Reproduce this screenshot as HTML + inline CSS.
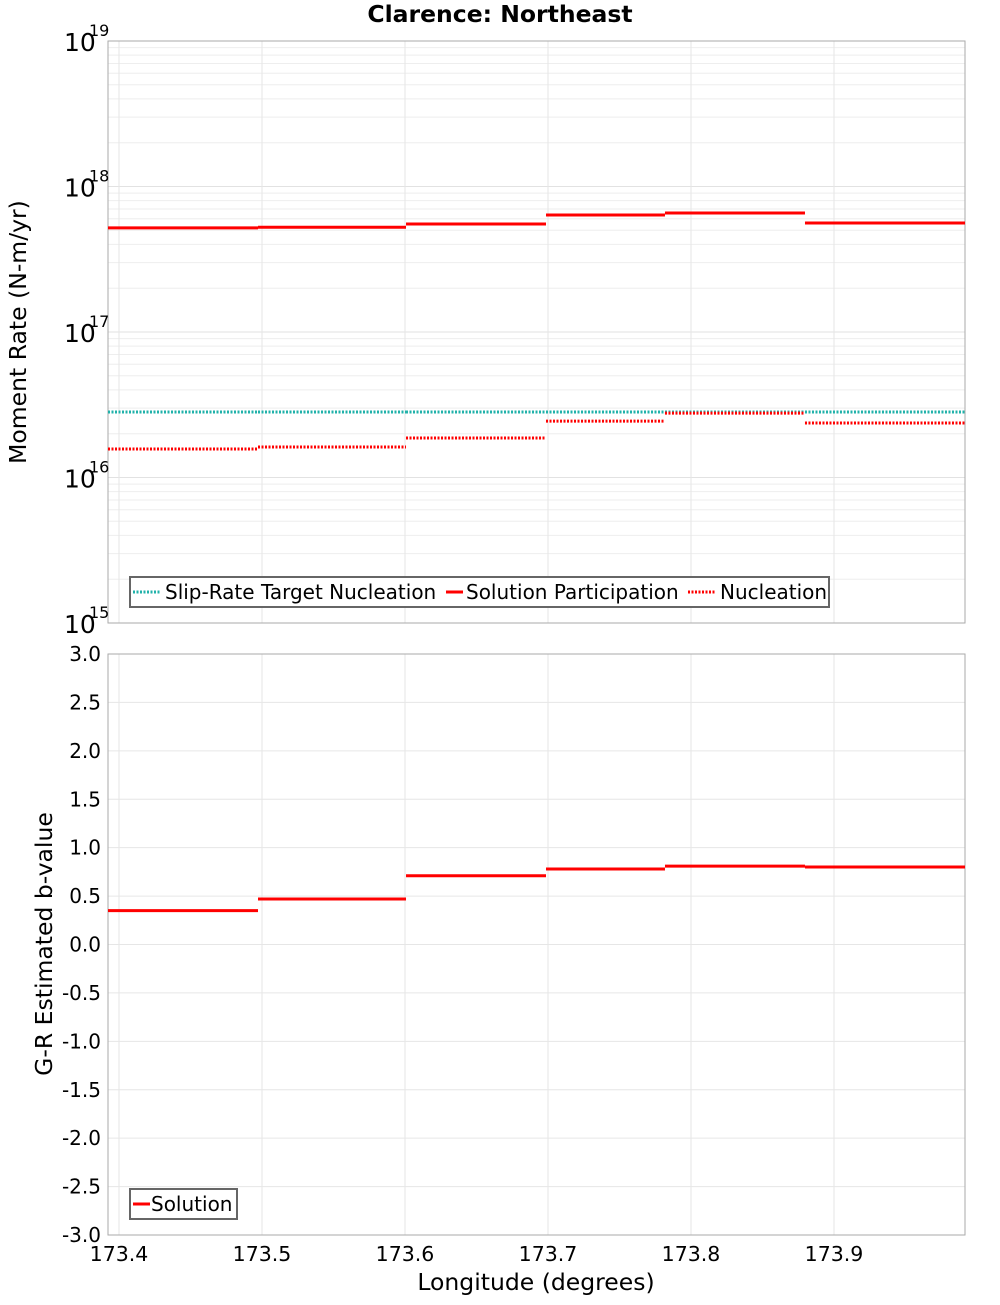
<!DOCTYPE html>
<html><head><meta charset="utf-8"><style>
body{margin:0;background:#fff;width:1000px;height:1300px;overflow:hidden}
svg{font-family:"DejaVu Sans","Liberation Sans",sans-serif}
</style></head><body>
<svg id="c" width="1000" height="1300"></svg>
<script>
const edges=[173.3923,173.4972,173.6007,173.6986,173.7818,173.8797,173.9916];
const participation=[5.2e17,5.25e17,5.52e17,6.37e17,6.57e17,5.61e17];
const nucleation=[1.57e16,1.62e16,1.87e16,2.44e16,2.77e16,2.37e16];
const target=[2.82e16,2.82e16,2.82e16,2.82e16,2.82e16,2.82e16];
const bvalue=[0.35,0.47,0.71,0.78,0.81,0.80];
const xTicks=[173.4,173.5,173.6,173.7,173.8,173.9];
const yTicksB=[3.0,2.5,2.0,1.5,1.0,0.5,0.0,-0.5,-1.0,-1.5,-2.0,-2.5,-3.0];
const decades=[15,16,17,18,19];

const L=108,R=965,T1=41,B1=623,T2=654,B2=1235;
const xMin=173.3923,xMax=173.9916;
const X=v=>L+(v-xMin)/(xMax-xMin)*(R-L);
const Y1=v=>B1-(Math.log10(v)-15)/4*(B1-T1);
const Y2=v=>B2-(v+3)/6*(B2-T2);
const svg=document.getElementById('c');
const NS='http://www.w3.org/2000/svg';
function el(tag,attrs,text){const e=document.createElementNS(NS,tag);for(const k in attrs)e.setAttribute(k,attrs[k]);if(text!==undefined)e.textContent=text;svg.appendChild(e);return e;}

for(let d=15;d<19;d++)for(let m=1;m<10;m++){const y=Y1(m*Math.pow(10,d));
 const g=el('line',{x1:L,x2:R,y1:y,y2:y,stroke:m==1?'#e2e2e2':'#eeeeee','stroke-width':1});
 }
yTicksB.forEach(v=>{const y=Y2(v);const g=el('line',{x1:L,x2:R,y1:y,y2:y,stroke:'#e6e6e6'});
 });
xTicks.forEach(v=>{const x=X(v);[[T1,B1],[T2,B2]].forEach(([a,b])=>{const g=el('line',{x1:x,x2:x,y1:a,y2:b,stroke:'#e6e6e6'});
 });});

let f=el('rect',{x:L,y:T1,width:R-L,height:B1-T1,fill:'none',stroke:'#aaa'});

f=el('rect',{x:L,y:T2,width:R-L,height:B2-T2,fill:'none',stroke:'#aaa'});


function steps(vals,Yf,color,dash,name){vals.forEach((v,i)=>{const l=el('line',{x1:X(edges[i]),x2:X(edges[i+1]),y1:Yf(v),y2:Yf(v),stroke:color,'stroke-width':3});
 if(dash)l.setAttribute('stroke-dasharray','2,1.5');
 });}
steps(target,Y1,'#20b2aa',true,'target-segment');
steps(participation,Y1,'#ff0000',false,'participation-segment');
steps(nucleation,Y1,'#ff0000',true,'nucleation-segment');
steps(bvalue,Y2,'#ff0000',false,'bvalue-segment');

decades.forEach(d=>{const y=Y1(Math.pow(10,d));
 let t=el('text',{x:64,y:y+10,'font-size':25},'10');
 t=el('text',{x:89,y:y-5,'font-size':16},String(d));});
yTicksB.forEach(v=>{const t=el('text',{x:101,y:Y2(v)+7,'font-size':20,'text-anchor':'end'},v.toFixed(1));
 });
xTicks.forEach(v=>{const t=el('text',{x:X(v),y:1261,'font-size':20.5,'text-anchor':'middle'},v.toFixed(1));
 });
let t=el('text',{x:500,y:22,'font-size':23.5,'font-weight':'bold','text-anchor':'middle'},'Clarence: Northeast');

t=el('text',{x:536,y:1290,'font-size':23.5,'text-anchor':'middle'},'Longitude (degrees)');

t=el('text',{x:0,y:0,'font-size':23.5,'text-anchor':'middle',transform:'translate(26,332) rotate(-90)'},'Moment Rate (N-m/yr)');

t=el('text',{x:0,y:0,'font-size':23.5,'text-anchor':'middle',transform:'translate(52,944) rotate(-90)'},'G-R Estimated b-value');


let r=el('rect',{x:130,y:577,width:699,height:30,fill:'#fff',stroke:'#666','stroke-width':2});

const leg=[[133,161,165,'#20b2aa',true,'Slip-Rate Target Nucleation'],[446,463,466,'#ff0000',false,'Solution Participation'],[688,716,720,'#ff0000',true,'Nucleation']];
leg.forEach(([x,x2,tx,c,d,s])=>{const l=el('line',{x1:x,x2:x2,y1:592,y2:592,stroke:c,'stroke-width':3});if(d)l.setAttribute('stroke-dasharray','2,1.5');
 
 const tt=el('text',{x:tx,y:599,'font-size':20},s);});
r=el('rect',{x:130,y:1189,width:107,height:30,fill:'#fff',stroke:'#666','stroke-width':2});

let l=el('line',{x1:133,x2:150,y1:1204,y2:1204,stroke:'#ff0000','stroke-width':3});

t=el('text',{x:151,y:1211,'font-size':20},'Solution');
</script>
</body></html>
